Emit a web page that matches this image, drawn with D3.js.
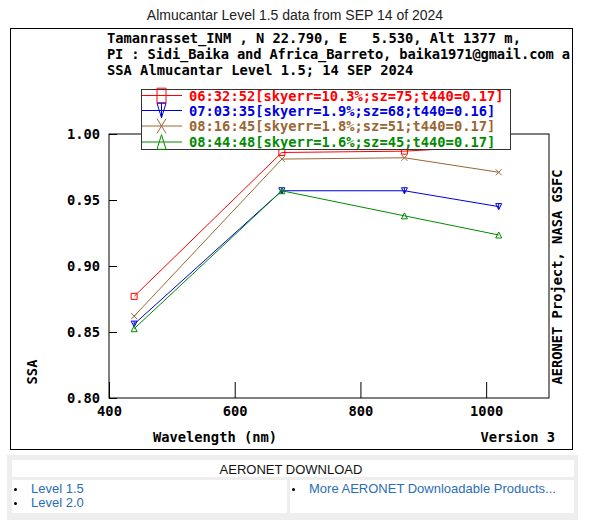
<!DOCTYPE html>
<html>
<head>
<meta charset="utf-8">
<script src="https://cdn.jsdelivr.net/npm/d3@7"></script>
<style>
  body { margin: 0; background: #fff; }
  svg { display: block; }
</style>
</head>
<body>
<div id="container"></div>
<script>
// data
const wavelengths = [440, 675, 870, 1020];
const times = ["06:32:52", "07:03:35", "08:16:45", "08:44:48"];
const skyerr = ["10.3", "1.9", "1.8", "1.6"];
const sza = [75, 68, 51, 45];
const t440 = ["0.17", "0.16", "0.17", "0.17"];
const ssa0632 = [0.877, 0.986, 0.987, 0.991];
const ssa0703 = [0.856, 0.957, 0.957, 0.945];
const ssa0816 = [0.862, 0.981, 0.982, 0.971];
const ssa0844 = [0.8525, 0.957, 0.938, 0.9235];
const xTicks = [400, 600, 800, 1000];
const yTicks = [0.80, 0.85, 0.90, 0.95, 1.00];
const headerLines = [
    "Tamanrasset_INM , N 22.790, E   5.530, Alt 1377 m,",
    "PI : Sidi_Baika and Africa_Barreto, baika1971@gmail.com a",
    "SSA Almucantar Level 1.5; 14 SEP 2024"
];

const colors = ["#ff0000", "#0000dd", "#996633", "#008c00"];
const series = [ssa0632, ssa0703, ssa0816, ssa0844];
// marker shapes in unit box (-1..1)
const markers = [
    "M-1,-1L1,-1L1,1L-1,1Z",
    "M-1,-1L1,-1L0,1Z M0,-1L0,1",
    "M-1,-1L1,1M-1,1L1,-1",
    "M0,-1L1,1L-1,1Z"
];

const mono = "'DejaVu Sans Mono', monospace";
const svg = d3.select("#container").append("svg")
    .attr("width", 590).attr("height", 520);

// title
svg.append("text")
    .attr("x", 295).attr("y", 20)
    .attr("text-anchor", "middle")
    .style("font-family", "'Liberation Sans', Arial, sans-serif")
    .style("font-size", "14px")
    .attr("fill", "#222")
    .text("Almucantar Level 1.5 data from SEP 14 of 2024");

// outer frame
svg.append("rect")
    .attr("x", 10.5).attr("y", 28.5).attr("width", 562).attr("height", 421)
    .attr("fill", "#fff").attr("stroke", "#000");

const frame = svg.append("g")
    .style("font-family", mono).style("font-weight", "bold").style("font-size", "13.75px");

frame.selectAll("text.head").data(headerLines).enter().append("text")
    .attr("class", "head")
    .attr("x", 107).attr("y", (d, i) => 43 + i * 16)
    .attr("fill", "#000")
    .attr("xml:space", "preserve")
    .text(d => d);
// the long PI line just fits inside the frame
frame.selectAll("text.head").filter((d, i) => i === 1)
    .attr("textLength", 463).attr("lengthAdjust", "spacing");

const x = d3.scaleLinear().domain([400, 1100]).range([109, 549]);
const y = d3.scaleLinear().domain([0.8, 1.0]).range([398, 134]);

// axes
const xAxis = frame.append("g").attr("transform", "translate(0,398)")
    .call(d3.axisBottom(x).tickValues(xTicks).tickSize(-16).tickPadding(8).tickFormat(d3.format("d")));
const yAxis = frame.append("g").attr("transform", "translate(109,0)")
    .call(d3.axisLeft(y).tickValues(yTicks).tickSize(-8).tickPadding(9).tickFormat(d3.format(".2f")));
[xAxis, yAxis].forEach(a => {
    a.select(".domain").remove();
    a.attr("font-family", null).attr("font-size", null);
    a.selectAll("line").attr("stroke", "#000");
    a.selectAll("text").attr("fill", "#000");
});

// series lines and markers
const line = d3.line().x((d, i) => x(wavelengths[i])).y(d => y(d));
series.forEach((s, k) => {
    frame.append("path").datum(s)
        .attr("d", line)
        .attr("fill", "none")
        .attr("stroke", colors[k])
        .attr("stroke-width", 1);
    frame.selectAll("path.m" + k).data(s).enter().append("path")
        .attr("class", "m" + k)
        .attr("d", markers[k])
        .attr("transform", (d, i) => `translate(${x(wavelengths[i])},${y(d)}) scale(3)`)
        .attr("fill", "none")
        .attr("stroke", colors[k])
        .attr("stroke-width", 1 / 3);
});

// plot box
frame.append("rect")
    .attr("x", 109).attr("y", 134).attr("width", 440).attr("height", 264)
    .attr("fill", "none").attr("stroke", "#000");

// legend
const legend = frame.append("g");
legend.append("rect")
    .attr("x", 141.5).attr("y", 89.5).attr("width", 369).attr("height", 60)
    .attr("fill", "#fff").attr("stroke", "#333");
const rowY = [95.5, 110.5, 126, 142];
times.forEach((t, k) => {
    legend.append("line")
        .attr("x1", 142).attr("x2", 182).attr("y1", rowY[k]).attr("y2", rowY[k])
        .attr("stroke", colors[k]);
    legend.append("path")
        .attr("d", markers[k])
        .attr("transform", `translate(161.5,${rowY[k]}) scale(4.5,7.3)`)
        .attr("fill", "none")
        .attr("stroke", colors[k])
        .attr("vector-effect", "non-scaling-stroke");
    legend.append("text")
        .attr("x", 189).attr("y", rowY[k] + 5)
        .attr("fill", colors[k])
        .text(`${t}[skyerr=${skyerr[k]}%;sz=${sza[k]};t440=${t440[k]}]`);
});

// axis titles
frame.append("text")
    .attr("transform", "translate(37,372) rotate(-90)")
    .attr("text-anchor", "middle")
    .text("SSA");
frame.append("text")
    .attr("transform", "translate(562,277) rotate(-90)")
    .attr("text-anchor", "middle")
    .text("AERONET Project, NASA GSFC");
frame.append("text")
    .attr("x", 215).attr("y", 442)
    .attr("text-anchor", "middle")
    .text("Wavelength (nm)");
frame.append("text")
    .attr("x", 555).attr("y", 442)
    .attr("text-anchor", "end")
    .text("Version 3");

// download panel under the chart
const sans = "'Liberation Sans', Arial, sans-serif";
const panel = svg.append("g").style("font-family", sans).style("font-size", "13px");
panel.append("rect").attr("x", 7).attr("y", 455).attr("width", 571).attr("height", 65).attr("fill", "#eeeeee");
panel.append("rect").attr("x", 12).attr("y", 460).attr("width", 562).attr("height", 17).attr("fill", "#fff");
panel.append("rect").attr("x", 12).attr("y", 480).attr("width", 275).attr("height", 33).attr("fill", "#fff");
panel.append("rect").attr("x", 290).attr("y", 480).attr("width", 284).attr("height", 33).attr("fill", "#fff");
panel.append("text")
    .attr("x", 291).attr("y", 474).attr("text-anchor", "middle")
    .attr("fill", "#111")
    .text("AERONET DOWNLOAD");
const links = [
    { x: 14, y: 493, t: "Level 1.5" },
    { x: 14, y: 507, t: "Level 2.0" },
    { x: 292, y: 493, t: "More AERONET Downloadable Products..." }
];
links.forEach(l => {
    panel.append("circle").attr("cx", l.x + 1.5).attr("cy", l.y - 3.5).attr("r", 1.5).attr("fill", "#000");
    panel.append("text").attr("x", l.x + 17).attr("y", l.y).attr("fill", "#2a6db5").text(l.t);
});
</script>
</body>
</html>
